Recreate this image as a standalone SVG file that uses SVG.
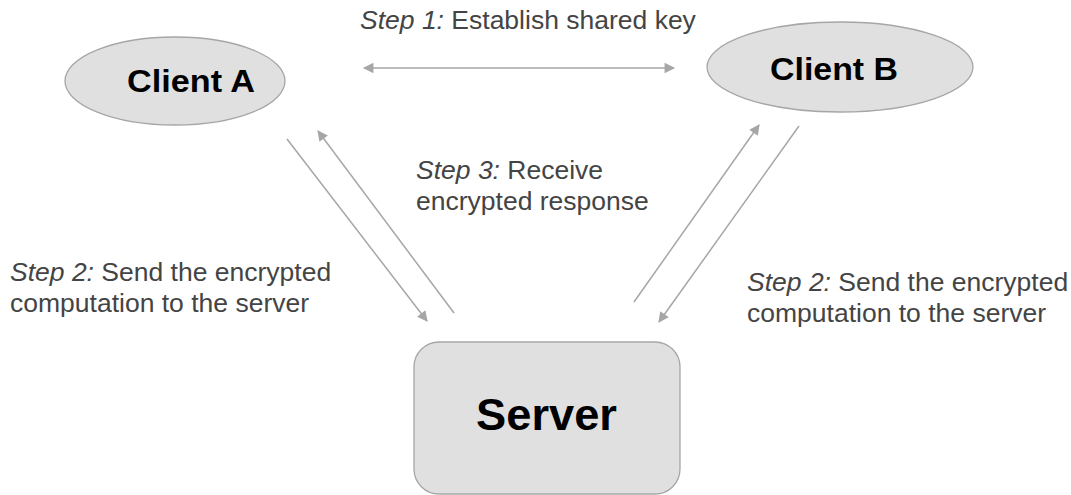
<svg xmlns="http://www.w3.org/2000/svg" width="1071" height="495" viewBox="0 0 1071 495">
<style>
.node{fill:#e0e0e0;stroke:#a6a6a6;stroke-width:1.3}
.title{font-family:"Liberation Sans",Arial,sans-serif;font-weight:bold;fill:#000;text-anchor:middle}
.lbl{font-family:"Liberation Sans",Arial,sans-serif;font-size:26.5px;fill:#444}
.conn{stroke:#a6a6a6;stroke-width:1.5;fill:none}
</style>
<defs>
<marker id="ah" viewBox="0 0 10 10" refX="9" refY="5" markerWidth="8" markerHeight="7" orient="auto-start-reverse" markerUnits="strokeWidth">
<path d="M0,0 L10,5 L0,10 z" fill="#a6a6a6"/>
</marker>
</defs>
<rect width="1071" height="495" fill="#fff"/>
<g id="connectors">
<line class="conn" x1="364" y1="68" x2="674" y2="68" marker-start="url(#ah)" marker-end="url(#ah)"/>
<line class="conn" x1="287" y1="139" x2="427" y2="321" marker-end="url(#ah)"/>
<line class="conn" x1="454" y1="313" x2="318" y2="131" marker-end="url(#ah)"/>
<line class="conn" x1="634" y1="302" x2="759" y2="125" marker-end="url(#ah)"/>
<line class="conn" x1="799" y1="126" x2="659" y2="322" marker-end="url(#ah)"/>
</g>
<g id="clientA">
<ellipse class="node" cx="175" cy="81" rx="110" ry="44"/>
<text class="title" x="191" y="92" font-size="31" textLength="128" lengthAdjust="spacingAndGlyphs">Client A</text>
</g>
<g id="clientB">
<ellipse class="node" cx="840" cy="67" rx="133" ry="45"/>
<text class="title" x="834" y="80" font-size="31" textLength="128" lengthAdjust="spacingAndGlyphs">Client B</text>
</g>
<g id="server">
<rect class="node" x="414" y="342" width="266" height="152" rx="25"/>
<text class="title" x="546.5" y="430" font-size="45" textLength="141" lengthAdjust="spacingAndGlyphs">Server</text>
</g>
<g id="labels">
<text class="lbl" x="360" y="29"><tspan font-style="italic">Step 1:</tspan> Establish shared key</text>
<text class="lbl" x="416" y="179"><tspan font-style="italic">Step 3:</tspan> Receive</text>
<text class="lbl" x="416" y="210">encrypted response</text>
<text class="lbl" x="10" y="281"><tspan font-style="italic">Step 2:</tspan> Send the encrypted</text>
<text class="lbl" x="10" y="312">computation to the server</text>
<text class="lbl" x="747" y="291"><tspan font-style="italic">Step 2:</tspan> Send the encrypted</text>
<text class="lbl" x="747" y="322">computation to the server</text>
</g>
</svg>
